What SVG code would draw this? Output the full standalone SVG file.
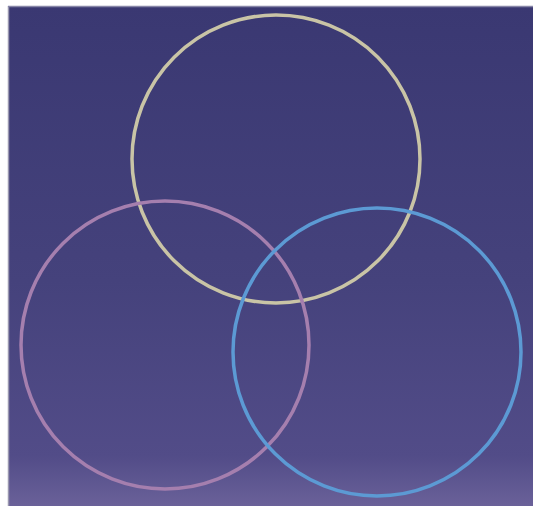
<svg xmlns="http://www.w3.org/2000/svg" width="533" height="510" viewBox="0 0 533 510">
<defs>
<linearGradient id="bg" x1="0" y1="0" x2="0" y2="1">
<stop offset="0" stop-color="#3a3872"/>
<stop offset="0.55" stop-color="#45427c"/>
<stop offset="0.9" stop-color="#524c88"/>
<stop offset="1" stop-color="#6a6199"/>
</linearGradient>
<style>
.c{fill:none;stroke-width:3.5}
</style>
</defs>
<rect x="0" y="0" width="533" height="510" fill="#ffffff"/>
<rect x="8" y="6" width="525" height="500" fill="url(#bg)"/>
<line x1="8.5" y1="6" x2="8.5" y2="506" stroke="#9a98b0" stroke-width="1.5"/>
<line x1="8" y1="6.5" x2="533" y2="6.5" stroke="#8886a8" stroke-width="1.5"/>
<g id="circle-top"><circle class="c" cx="276" cy="159" r="144" stroke="#c9c4a6"/></g>
<g id="circle-left"><circle class="c" cx="165" cy="345" r="144" stroke="#a57fae"/></g>
<g id="circle-right"><circle class="c" cx="377" cy="352" r="144" stroke="#5c9ad4"/></g>
</svg>
